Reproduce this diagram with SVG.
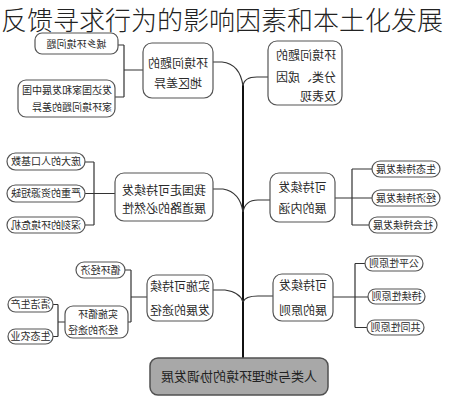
<svg xmlns="http://www.w3.org/2000/svg" width="460" height="400" viewBox="0 0 460 400">
<style>
.b{fill:#fff;stroke:#555;stroke-width:1.2}
.r{fill:#a8a8a8;stroke:#505050;stroke-width:1.5}
.c{fill:none;stroke:#333;stroke-width:1.2}
.t{stroke:#111;stroke-width:2;fill:none}
text{font-family:"Noto Sans CJK SC","Noto Sans",sans-serif;fill:#2a2a2a}
.m{font-size:12px;text-anchor:middle}
.ms{font-size:12px;text-anchor:start}
.s{font-size:10px;text-anchor:middle}
.ss{font-size:10px;text-anchor:start}
.big{font-size:13px;text-anchor:middle;fill:#222}
.title{font-size:26px;fill:#222;font-weight:300}
</style>
<rect width="460" height="400" fill="#fff"/>
<g id="connectors">
<path class="t" d="M243,85 V358"/>
<path class="c" d="M213,62 H222 Q240,64 243,86"/>
<path class="c" d="M243,86 Q244,77 257,77 H268"/>
<path class="c" d="M213,189 H223 Q240,192 243,212"/>
<path class="c" d="M243,212 Q245,200 258,200 H270"/>
<path class="c" d="M213,290 H225 Q240,292 243,302"/>
<path class="c" d="M243,302 Q245,296 258,296 H273"/>
<path class="c" d="M124,45 V97 M118,45 H124 M124,70 H143 M115,97 H124"/>
<path class="c" d="M94,162 V225 M85,162 H94 M85,193.5 H115 M85,225 H94"/>
<path class="c" d="M352,169 V225 M335,198 H372 M352,169 H372 M352,225 H369"/>
<path class="c" d="M355,263.5 V327.5 M333,297 H368 M355,263.5 H365 M355,327.5 H367"/>
<path class="c" d="M131,270 V322 M131,297 H147 M125,270 H131 M128,322 H131"/>
<path class="c" d="M58,304.5 V336.5 M58,322 H65 M53,304.5 H58 M53,336.5 H58"/>
</g>
<g id="n-urban"><rect class="b" x="35" y="33" width="83" height="21" rx="7"/><text class="s" transform="scale(-1,1)" x="-76.5" y="48">城乡环境问题</text></g>
<g id="n-dev"><rect class="b" x="18" y="80" width="97" height="37" rx="8"/><text class="ss" transform="scale(-1,1)" x="-112" y="93.7">发达国家和发展中国</text><text class="ss" transform="scale(-1,1)" x="-112" y="110.7">家环境问题的差异</text></g>
<g id="n-region"><rect class="b" x="143" y="43" width="70" height="55" rx="9"/><text class="m" transform="scale(-1,1)" x="-178" y="67.5">环境问题的</text><text class="m" transform="scale(-1,1)" x="-178" y="87.5">地区差异</text></g>
<g id="n-class"><rect class="b" x="268" y="41" width="74" height="64" rx="9"/><text class="ms" transform="scale(-1,1)" x="-336" y="59.5">环境问题的</text><text class="ms" transform="scale(-1,1)" x="-336" y="81.5">分类、成因</text><text class="ms" transform="scale(-1,1)" x="-336" y="100.5">及表现</text></g>
<g id="n-pop"><rect class="b" x="7" y="153" width="78" height="17" rx="8.5"/><text class="s" transform="scale(-1,1)" x="-46" y="165">庞大的人口基数</text></g>
<g id="n-res"><rect class="b" x="7" y="185" width="78" height="17" rx="8.5"/><text class="s" transform="scale(-1,1)" x="-46" y="197">严重的资源短缺</text></g>
<g id="n-env"><rect class="b" x="7" y="217" width="78" height="16" rx="8"/><text class="s" transform="scale(-1,1)" x="-46" y="228.7">深刻的环境危机</text></g>
<g id="n-why"><rect class="b" x="115" y="173" width="98" height="48" rx="9"/><text class="m" transform="scale(-1,1)" x="-164" y="194.5">我国走可持续发</text><text class="m" transform="scale(-1,1)" x="-164" y="212.5">展道路的必然性</text></g>
<g id="n-meaning"><rect class="b" x="270" y="173" width="65" height="49" rx="9"/><text class="m" transform="scale(-1,1)" x="-302.5" y="191.5">可持续发</text><text class="m" transform="scale(-1,1)" x="-302.5" y="212.5">展的内涵</text></g>
<g id="n-eco"><rect class="b" x="372" y="161" width="68" height="16" rx="8"/><text class="s" transform="scale(-1,1)" x="-406" y="172.7">生态持续发展</text></g>
<g id="n-econ"><rect class="b" x="372" y="190" width="68" height="16" rx="8"/><text class="s" transform="scale(-1,1)" x="-406" y="201.7">经济持续发展</text></g>
<g id="n-soc"><rect class="b" x="369" y="217" width="68" height="16" rx="8"/><text class="s" transform="scale(-1,1)" x="-403" y="228.7">社会持续发展</text></g>
<g id="n-way"><rect class="b" x="147" y="275" width="66" height="46" rx="9"/><text class="m" transform="scale(-1,1)" x="-180" y="290.5">实施可持续</text><text class="m" transform="scale(-1,1)" x="-180" y="314.5">发展的途径</text></g>
<g id="n-principle"><rect class="b" x="273" y="274" width="60" height="47" rx="9"/><text class="m" transform="scale(-1,1)" x="-303" y="289.5">可持续发</text><text class="m" transform="scale(-1,1)" x="-303" y="314.5">展的原则</text></g>
<g id="n-fair"><rect class="b" x="365" y="256" width="58" height="15" rx="7.5"/><text class="s" transform="scale(-1,1)" x="-394" y="267.2">公平性原则</text></g>
<g id="n-sust"><rect class="b" x="368" y="289" width="57" height="15" rx="7.5"/><text class="s" transform="scale(-1,1)" x="-396.5" y="300.2">持续性原则</text></g>
<g id="n-common"><rect class="b" x="367" y="320" width="57" height="15" rx="7.5"/><text class="s" transform="scale(-1,1)" x="-395.5" y="331.2">共同性原则</text></g>
<g id="n-cycle"><rect class="b" x="76" y="262" width="49" height="16" rx="8"/><text class="s" transform="scale(-1,1)" x="-100.5" y="273.7">循环经济</text></g>
<g id="n-cycway"><rect class="b" x="65" y="306" width="63" height="32" rx="8"/><text class="ss" transform="scale(-1,1)" x="-118" y="317.7">实施循环</text><text class="ss" transform="scale(-1,1)" x="-118" y="333.7">经济的途径</text></g>
<g id="n-clean"><rect class="b" x="8" y="297" width="45" height="15" rx="7.5"/><text class="s" transform="scale(-1,1)" x="-30.5" y="308.2">清洁生产</text></g>
<g id="n-agri"><rect class="b" x="8" y="329" width="45" height="15" rx="7.5"/><text class="s" transform="scale(-1,1)" x="-30.5" y="340.2">生态农业</text></g>
<g id="n-root"><rect class="r" x="150" y="358" width="178" height="37" rx="8"/><text class="big" transform="scale(-1,1)" x="-239" y="381">人类与地理环境的协调发展</text></g>
<text class="title" x="1" y="30">反馈寻求行为的影响因素和本土化发展</text>
</svg>
